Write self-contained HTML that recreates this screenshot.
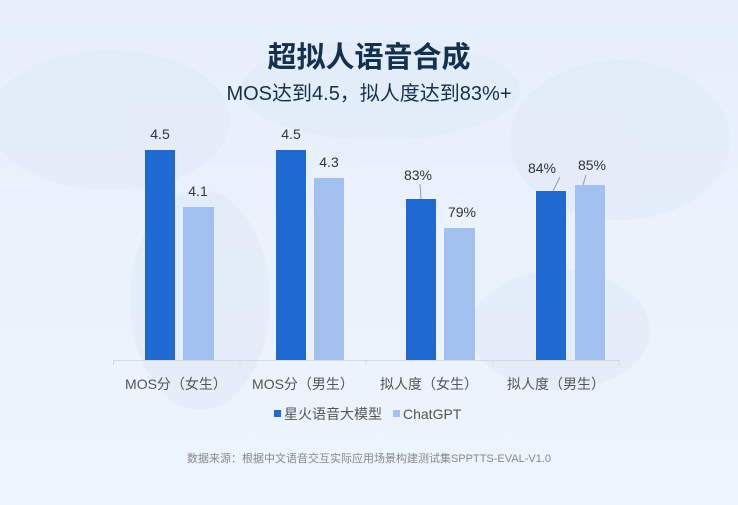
<!DOCTYPE html>
<html><head><meta charset="utf-8"><style>
body{margin:0;width:738px;height:505px;overflow:hidden;background:linear-gradient(180deg,#e6effa 0%,#eaf2fc 50%,#edf4fd 100%);font-family:"Liberation Sans","Noto Sans CJK SC",sans-serif;}
</style></head><body>
<svg width="738" height="505" xmlns="http://www.w3.org/2000/svg" style="position:absolute;left:0;top:0">
<g fill="#dde8f5" opacity="0.45">
<ellipse cx="110" cy="120" rx="120" ry="70"/>
<ellipse cx="380" cy="90" rx="140" ry="50"/>
<ellipse cx="620" cy="140" rx="110" ry="80"/>
<ellipse cx="200" cy="300" rx="70" ry="110"/>
<ellipse cx="560" cy="330" rx="90" ry="60"/>
</g>
<text x="369" y="67" text-anchor="middle" font-size="29" font-weight="bold" fill="#13304f" font-family="Liberation Sans,Noto Sans CJK SC,sans-serif">超拟人语音合成</text>
<text x="369" y="100" text-anchor="middle" font-size="20" fill="#13304f" font-family="Liberation Sans,Noto Sans CJK SC,sans-serif">MOS达到4.5，拟人度达到83%+</text>
<g fill="#1f69d3">
<rect x="145" y="150" width="30" height="210"/>
<rect x="276" y="150" width="30" height="210"/>
<rect x="406" y="199" width="30" height="161"/>
<rect x="536" y="191" width="30" height="169"/>
</g>
<g fill="#a2c1ee">
<rect x="183" y="207" width="31" height="153"/>
<rect x="314" y="178" width="30" height="182"/>
<rect x="444" y="228" width="31" height="132"/>
<rect x="575" y="185" width="30" height="175"/>
</g>
<g font-size="14" fill="#333" text-anchor="middle" font-family="Liberation Sans,sans-serif">
<text x="160" y="139">4.5</text><text x="198" y="196">4.1</text>
<text x="291" y="139">4.5</text><text x="329" y="167">4.3</text>
<text x="418" y="180">83%</text><text x="462" y="217">79%</text>
<text x="542" y="173">84%</text><text x="592" y="170">85%</text>
</g>
<g stroke="#999" stroke-width="1"><line x1="420" y1="184" x2="421" y2="199"/><line x1="560" y1="177" x2="553" y2="191"/><line x1="586" y1="175" x2="583" y2="185"/></g>
<g stroke="#d4d9e0" stroke-width="1"><line x1="113" y1="360.5" x2="619" y2="360.5"/>
<line x1="113.5" y1="360" x2="113.5" y2="365"/><line x1="240" y1="360" x2="240" y2="365"/><line x1="366" y1="360" x2="366" y2="365"/><line x1="493" y1="360" x2="493" y2="365"/><line x1="619" y1="360" x2="619" y2="365"/></g>
<g font-size="14" fill="#555" text-anchor="middle" font-family="Liberation Sans,Noto Sans CJK SC,sans-serif">
<text x="176" y="389">MOS分（女生）</text><text x="303" y="389">MOS分（男生）</text>
<text x="429" y="389">拟人度（女生）</text><text x="556" y="389">拟人度（男生）</text>
</g>
<rect x="274" y="410" width="7" height="7" fill="#1f69d3"/>
<text x="284" y="419" font-size="14" fill="#555" font-family="Liberation Sans,Noto Sans CJK SC,sans-serif">星火语音大模型</text>
<rect x="393" y="410" width="7" height="7" fill="#a2c1ee"/>
<text x="403" y="419" font-size="14" fill="#555" font-family="Liberation Sans,sans-serif">ChatGPT</text>
<text x="369" y="462" text-anchor="middle" font-size="11" fill="#888" font-family="Liberation Sans,Noto Sans CJK SC,sans-serif">数据来源：根据中文语音交互实际应用场景构建测试集SPPTTS-EVAL-V1.0</text>
</svg>
</body></html>
